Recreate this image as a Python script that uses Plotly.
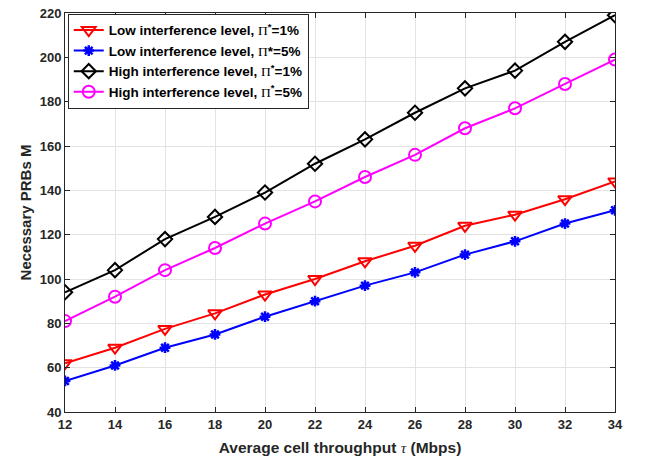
import plotly.graph_objects as go

throughput = [12, 14, 16, 18, 20, 22, 24, 26, 28, 30, 32, 34]
low_1 = [62, 69, 77.5, 84.5, 93, 100, 108, 115, 124, 129, 136, 144]
low_5 = [54, 61, 69, 75, 83, 90, 97, 103, 111, 117, 125, 131]
high_1 = [94, 104, 118, 128, 139, 152, 163, 175, 186, 194, 207, 219]
high_5 = [81, 92, 104, 114, 125, 135, 146, 156, 168, 177, 188, 199]

PI = '<span style="font-family:Liberation Serif;font-weight:normal">Π</span>'
names = [
    f"Low interference level, {PI}<sup>*</sup>=1%",
    f"Low interference level, {PI}*=5%",
    f"High interference level, {PI}<sup>*</sup>=1%",
    f"High interference level, {PI}<sup>*</sup>=5%",
]
series = [low_1, low_5, high_1, high_5]
colors = ["#ff0000", "#0000ff", "#000000", "#ff00ff"]
symbols = ["triangle-down-open", "asterisk-open", "diamond-open", "circle-open"]
sizes = [12, 9, 11, 12]
mlw = [2, 2.5, 2, 2]

fig = go.Figure()
for nm, ys, c, s, sz, lw in zip(names, series, colors, symbols, sizes, mlw):
    fig.add_trace(go.Scatter(
        x=throughput, y=ys, name=nm, mode="lines+markers",
        line=dict(color=c, width=2),
        marker=dict(symbol=s, size=sz, color=c, line=dict(color=c, width=lw)),
    ))

axis_common = dict(
    showline=True, linecolor="#262626", linewidth=1, mirror="allticks",
    ticks="inside", ticklen=5, tickcolor="#262626",
    showgrid=True, gridcolor="#e3e3e3", gridwidth=1, zeroline=False,
    automargin=False, ticklabeloverflow="allow",
    tickfont=dict(family="Liberation Sans", size=13, color="#262626", weight="bold"),
)

fig.update_layout(
    width=646, height=459,
    margin=dict(l=65, r=31, t=13, b=47),
    paper_bgcolor="white", plot_bgcolor="white",
    font=dict(family="Liberation Sans", color="#262626"),
    xaxis=dict(range=[12, 34], dtick=2, tick0=12,
               title=dict(text='Average cell throughput <span style="font-family:Liberation Serif;font-style:italic;font-weight:normal">τ</span> (Mbps)',
                          font=dict(family="Liberation Sans", size=15.5, color="#262626", weight="bold"),
                          standoff=11),
               **axis_common),
    yaxis=dict(range=[40, 220], dtick=20, tick0=40,
               title=dict(text="Necessary PRBs M",
                          font=dict(family="Liberation Sans", size=15, color="#262626", weight="bold"),
                          standoff=4),
               **axis_common),
    legend=dict(x=0.005, y=0.998, xanchor="left", yanchor="top",
                bgcolor="white", bordercolor="#262626", borderwidth=1,
                font=dict(family="Liberation Sans", size=13.5, color="#000000", weight="bold"),
                tracegroupgap=0, itemwidth=30),
    showlegend=True,
)

fig.write_html("out.html", config={"displayModeBar": False},
               post_script="document.body.style.margin='0';")
